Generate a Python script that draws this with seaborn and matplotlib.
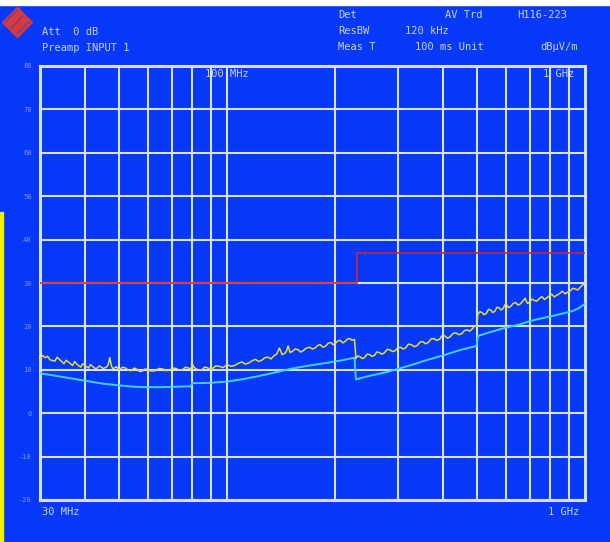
import matplotlib
matplotlib.use('Agg')
import matplotlib.pyplot as plt
import numpy as np
import pandas as pd
import seaborn as sns
from matplotlib.lines import Line2D
from matplotlib.patches import Rectangle

# frequencies in MHz, levels in dBuV/m
avg_freq = [30, 30.5, 31, 31.5, 32, 33, 33.5, 34, 35, 35.5, 36, 37, 37.5, 38,
            39, 39.5, 40, 41, 41.5, 42, 43, 44, 45, 46, 46.5, 47, 47.5, 48, 49,
            50, 51, 52, 53, 54, 55, 56, 57, 58, 59, 60, 61.5, 63, 64.5, 66,
            67.5, 69, 70.5, 72, 73.5, 75, 76.5, 78, 79, 80, 81, 82, 83.5, 85,
            86.5, 88, 89.5, 91, 93, 95, 97.5, 100, 102.5, 105, 107.5, 110,
            112.5, 115, 117.5, 120, 122.5, 125, 127.5, 130, 132.5, 135, 137.5,
            140, 142.5, 145, 146.5, 148, 150, 152, 155, 158, 160.5, 163, 166.5,
            170, 173, 176, 179, 182, 185, 188, 191.5, 195, 197.5, 200, 203.5,
            207, 210.5, 214, 217, 220, 223.5, 227,
            229, 232, 235, 238.5, 242, 246, 250, 254, 258, 262, 266, 270.5, 275,
            280, 285, 290, 295, 300, 305, 310, 315, 321, 327, 333.5, 340, 346,
            352, 358.5, 365, 371.5, 378, 385, 392, 399, 406, 413, 420, 428,
            436, 444, 452, 460, 468, 476.5, 485, 491.5, 498,
            502, 508.5, 515, 522.5, 530, 537.5, 545, 552.5, 560, 567.5, 575,
            582.5, 590, 597.5, 605, 612.5, 620, 630, 640, 650, 660, 670, 680,
            690, 700, 710, 720, 732.5, 745, 757.5, 770, 782.5, 795, 807.5, 820,
            835, 850, 865, 880, 895, 910, 925, 940, 955, 970, 985, 1000]
avg_level = [12.5, 13.3, 12.8, 13.1, 12.3, 12.0, 12.9, 12.4, 11.4, 12.2, 11.8,
             11.0, 11.9, 11.3, 10.6, 11.4, 11.0, 10.4, 11.2, 10.8, 10.2, 10.9,
             10.3, 10.6, 11.1, 12.8, 10.9, 10.2, 10.7,
             10.0, 10.6, 10.4, 9.9, 9.8, 10.4, 10.1, 9.6, 9.7, 10.2, 10.0, 9.7,
             9.8, 10.3, 10.2, 9.8, 9.9, 10.4, 10.3, 9.9, 10.0, 10.6, 10.4, 10.1,
             11.3, 10.5, 10.2, 9.9, 10.0, 10.6, 10.5, 10.1, 10.3, 10.9, 10.8,
             10.5, 11.2, 10.8, 11.0, 11.5, 11.8, 11.3, 11.6, 12.1, 12.4, 11.9,
             12.2, 12.8, 12.9, 12.5, 13.2, 13.6, 15.0, 13.5, 13.8, 14.3, 15.5,
             14.0, 14.2, 14.8, 14.6, 14.1, 14.4, 15.0,
             15.2, 14.8, 15.0, 15.6, 15.8, 15.2, 15.4, 16.1, 16.3, 15.8, 16.0,
             16.6, 16.8, 16.2, 16.6, 17.1, 17.2, 16.8, 17.0,
             12.6, 13.2, 13.0, 12.6, 12.8, 13.6, 13.5, 13.1, 13.3, 14.1, 14.0,
             13.6, 13.9, 14.7, 14.6, 14.2, 14.4, 15.1, 15.2, 14.8, 15.0, 15.9,
             15.8, 15.3, 15.6, 16.4,
             16.5, 16.0, 16.3, 17.1, 17.2, 16.8, 17.0, 17.9, 17.8, 17.3, 17.6,
             18.4, 18.5, 18.1, 18.3, 19.0, 19.2, 18.9, 19.5, 20.1, 20.0,
             22.8, 23.4, 23.2, 22.7, 23.0, 23.9, 23.8, 23.2, 23.5, 24.4, 24.3,
             23.8, 24.1, 25.0, 24.9, 24.3, 24.6, 25.3, 25.5, 24.9, 25.2, 25.8,
             26.5, 25.3, 25.6, 26.3, 26.0, 25.8, 26.4, 26.9, 26.2, 26.6, 27.0,
             27.4, 26.8, 27.2, 27.6, 28.1, 27.5, 27.9, 28.2, 28.8, 28.6, 28.4,
             29.0, 29.6, 29.8]

qp_freq = [30, 35, 40, 45, 50, 55, 60, 66, 72, 79, 80, 90, 100, 110, 120, 130,
           150, 170, 190, 210, 227, 229, 250, 280, 300, 330, 360, 400, 450,
           498, 502, 550, 600, 660, 700, 750, 800, 870, 920, 960, 1000]
qp_level = [9.2, 8.3, 7.5, 6.8, 6.4, 6.1, 6.0, 6.0, 6.1, 6.2, 6.9, 7.0, 7.3,
            7.8, 8.4, 9.0, 10.2, 11.0, 11.6, 12.2, 12.8, 7.8, 8.6, 9.5, 10.2,
            11.2, 12.2, 13.3, 14.6, 15.5, 17.8, 18.8, 19.7, 20.5, 21.2, 21.8,
            22.3, 23.0, 23.5, 24.2, 25.2]

limit_freq = [30, 230, 230, 1000]
limit_level = [30, 30, 37, 37]

grid_freq = [40, 50, 60, 70, 80, 90, 100, 200, 300, 400, 500, 600, 700, 800, 900]
y_ticks = [80, 70, 60, 50, 40, 30, 20, 10, 0, -10, -20]

BG = '#0638f7'
GRID = '#d6e2ff'
TXT = '#c9d2f2'

sns.set_style('dark', {'axes.facecolor': BG, 'figure.facecolor': BG})
plt.rcParams['font.family'] = ['DejaVu Sans Mono', 'DejaVu Sans']

fig = plt.figure(figsize=(6.1, 5.42), dpi=100)
ax = fig.add_axes([40 / 610, 1 - 500 / 542, 545 / 610, 434 / 542])
ax.set_facecolor(BG)

ax.set_xscale('log')
ax.set_xlim(30, 1000)
ax.set_ylim(-20, 80)

for f in grid_freq:
    ax.axvline(f, color=GRID, lw=1.5, zorder=1)
for v in y_ticks:
    ax.axhline(v, color=GRID, lw=1.5, zorder=1)

df_avg = pd.DataFrame({'f': avg_freq, 'lvl': avg_level})
df_qp = pd.DataFrame({'f': qp_freq, 'lvl': qp_level})
df_lim = pd.DataFrame({'f': limit_freq, 'lvl': limit_level})

sns.lineplot(data=df_lim, x='f', y='lvl', ax=ax, color='#d8202a', lw=1.2,
             sort=False, estimator=None, zorder=3)
sns.lineplot(data=df_qp, x='f', y='lvl', ax=ax, color='#3fd0ff', lw=1.4,
             sort=False, estimator=None, zorder=3)
sns.lineplot(data=df_avg, x='f', y='lvl', ax=ax, color='#e4dc3c', lw=1.1,
             sort=False, estimator=None, zorder=4)

ax.set_xticks([])
ax.set_xticks([], minor=True)
ax.set_yticks(y_ticks)
ax.set_yticklabels([str(v) for v in y_ticks], fontsize=5, color='#7f95e8')
ax.tick_params(axis='y', length=0, pad=6)
ax.set_xlabel('')
ax.set_ylabel('')
for s in ax.spines.values():
    s.set_color(GRID)
    s.set_linewidth(2.2)

# screen decorations
fig.patches.append(Rectangle((0, 1 - 5 / 542), 1, 5 / 542, transform=fig.transFigure,
                             color='white', zorder=0))
fig.patches.append(Rectangle((0, 0), 3 / 610, 330 / 542, transform=fig.transFigure,
                             color='#f4f000', zorder=0))
fig.add_artist(Line2D([17 / 610], [1 - 22 / 542], marker='D', markersize=15,
                      color='#d83a3a', transform=fig.transFigure))
for d in (-6, 0, 6):
    fig.add_artist(Line2D([(11 + d) / 610, (23 + d) / 610],
                          [1 - (28 + d) / 542, 1 - (16 + d) / 542],
                          color='#6a3aa0', lw=1.0, transform=fig.transFigure))

fs = 7.5
hdr = [
    (42, 32, 'Att  0 dB'),
    (42, 48, 'Preamp INPUT 1'),
    (338, 15, 'Det'),
    (445, 15, 'AV Trd'),
    (517, 15, 'H116-223'),
    (338, 31, 'ResBW'),
    (405, 31, '120 kHz'),
    (338, 47, 'Meas T'),
    (415, 47, '100 ms Unit'),
    (540, 47, 'dBµV/m'),
    (205, 74, '100 MHz'),
    (543, 74, '1 GHz'),
    (42, 512, '30 MHz'),
    (548, 512, '1 GHz'),
]
for px, py, t in hdr:
    fig.text(px / 610, 1 - py / 542, t, fontsize=fs, color=TXT, va='center',
             ha='left')

fig.savefig('out.png', dpi=100, facecolor=BG)
